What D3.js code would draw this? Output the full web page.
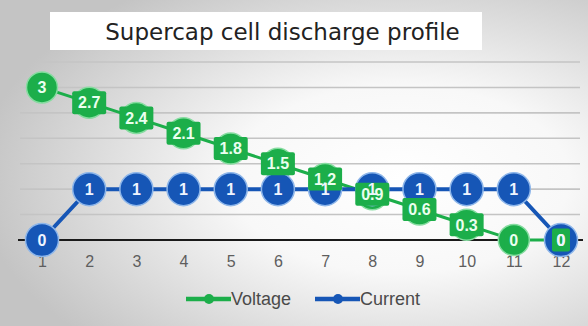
<!DOCTYPE html>
<html>
<head>
<meta charset="utf-8">
<script src="https://cdn.jsdelivr.net/npm/d3@7/dist/d3.min.js"></script>
<style>
  html, body { margin: 0; padding: 0; }
  svg { display: block; }
</style>
</head>
<body>
<script>
// Discharge profile data: time step, cell voltage, load current
const categories = [1, 2, 3, 4, 5, 6, 7, 8, 9, 10, 11, 12];
const voltage = [3, 2.7, 2.4, 2.1, 1.8, 1.5, 1.2, 0.9, 0.6, 0.3, 0, 0];
const current = [0, 1, 1, 1, 1, 1, 1, 1, 1, 1, 1, 0];
const gridValues = [0.5, 1, 1.5, 2, 2.5, 3, 3.5];
const seriesNames = ["Voltage", "Current"];

const W = 588, H = 326;
const green = "#1cae4a", greenHalo = "#86dca0";
const blue = "#1656b6", blueHalo = "#8db6ea";

const svg = d3.select("body").append("svg").attr("width", W).attr("height", H);

// soft grey vignette behind everything
const defs = svg.append("defs");
const rg = defs.append("radialGradient").attr("id", "bg")
  .attr("cx", "68%").attr("cy", "55%").attr("r", "72%");
rg.append("stop").attr("offset", "0%").attr("stop-color", "#ffffff");
rg.append("stop").attr("offset", "40%").attr("stop-color", "#f8f8f8");
rg.append("stop").attr("offset", "100%").attr("stop-color", "#c4c4c4");
svg.append("rect").attr("width", W).attr("height", H).attr("fill", "url(#bg)");

// title banner
svg.append("rect").attr("x", 50).attr("y", 12).attr("width", 432).attr("height", 38)
  .attr("fill", "#ffffff");
svg.append("text").attr("x", 282.5).attr("y", 40).attr("text-anchor", "middle")
  .attr("font-family", "DejaVu Sans, Verdana, sans-serif").attr("font-size", 23)
  .attr("fill", "#222").text("Supercap cell discharge profile");

const x = d3.scalePoint().domain(categories).range([42, 561]);
const y = d3.scaleLinear().domain([0, 3.5]).range([240, 62]);

// horizontal gridlines
svg.append("g").selectAll("line").data(gridValues).join("line")
  .attr("x1", 20).attr("x2", 580)
  .attr("y1", d => y(d)).attr("y2", d => y(d))
  .attr("stroke", "#c4c4c4").attr("stroke-width", 1.6);

// baseline
svg.append("line").attr("x1", 18).attr("x2", 583)
  .attr("y1", y(0)).attr("y2", y(0))
  .attr("stroke", "#1a1a1a").attr("stroke-width", 2);

// category axis labels
const xAxis = d3.axisBottom(x).tickSize(0).tickPadding(0);
const gx = svg.append("g").attr("transform", `translate(0,${y(0) + 16})`).call(xAxis);
gx.select(".domain").remove();
gx.selectAll("text").attr("font-family", "Arial, Liberation Sans, sans-serif")
  .attr("font-size", 16).attr("fill", "#5e5e5e").attr("dy", "0.71em");

const line = d3.line().x((d, i) => x(categories[i])).y(d => y(d));

// voltage series
svg.append("path").datum(voltage).attr("d", line)
  .attr("fill", "none").attr("stroke", green).attr("stroke-width", 3);
svg.append("g").selectAll("circle").data(voltage).join("circle")
  .attr("cx", (d, i) => x(categories[i])).attr("cy", d => y(d)).attr("r", 15.5)
  .attr("fill", green).attr("stroke", greenHalo).attr("stroke-width", 1.5);

// current series
svg.append("path").datum(current).attr("d", line)
  .attr("fill", "none").attr("stroke", blue).attr("stroke-width", 4);
svg.append("g").selectAll("circle").data(current).join("circle")
  .attr("cx", (d, i) => x(categories[i])).attr("cy", d => y(d)).attr("r", 16.5)
  .attr("fill", blue).attr("stroke", blueHalo).attr("stroke-width", 1.5);

// voltage value labels in green boxes
const fmt = d => String(d);
const boxW = d => fmt(d).length * 8 + 10;
const vl = svg.append("g").selectAll("g").data(voltage).join("g")
  .attr("transform", (d, i) => `translate(${x(categories[i])},${y(d)})`);
vl.append("rect")
  .attr("x", d => -boxW(d) / 2).attr("width", boxW)
  .attr("y", -11.5).attr("height", 23).attr("rx", 2)
  .attr("fill", green);
vl.append("text").attr("text-anchor", "middle").attr("dy", "0.36em")
  .attr("font-family", "Arial, Liberation Sans, sans-serif").attr("font-weight", "bold")
  .attr("font-size", 16).attr("fill", "#eaffef").text(fmt);

// current value labels
svg.append("g").selectAll("text").data(current).join("text")
  .attr("x", (d, i) => x(categories[i])).attr("y", d => y(d))
  .attr("text-anchor", "middle").attr("dy", "0.36em")
  .attr("font-family", "Arial, Liberation Sans, sans-serif").attr("font-weight", "bold")
  .attr("font-size", 16).attr("fill", "#eef4ff").text(fmt);

// legend
const legend = svg.append("g");
const items = [
  { name: seriesNames[0], color: green, x0: 186 },
  { name: seriesNames[1], color: blue, x0: 315 }
];
items.forEach(it => {
  legend.append("line").attr("x1", it.x0).attr("x2", it.x0 + 45)
    .attr("y1", 299).attr("y2", 299)
    .attr("stroke", it.color).attr("stroke-width", 4.5);
  legend.append("circle").attr("cx", it.x0 + 23).attr("cy", 299).attr("r", 5)
    .attr("fill", it.color);
  legend.append("text").attr("x", it.x0 + 45).attr("y", 299).attr("dy", "0.36em")
    .attr("font-family", "Arial, Liberation Sans, sans-serif").attr("font-size", 18)
    .attr("fill", "#4a4a4a").text(it.name);
});
</script>
</body>
</html>
